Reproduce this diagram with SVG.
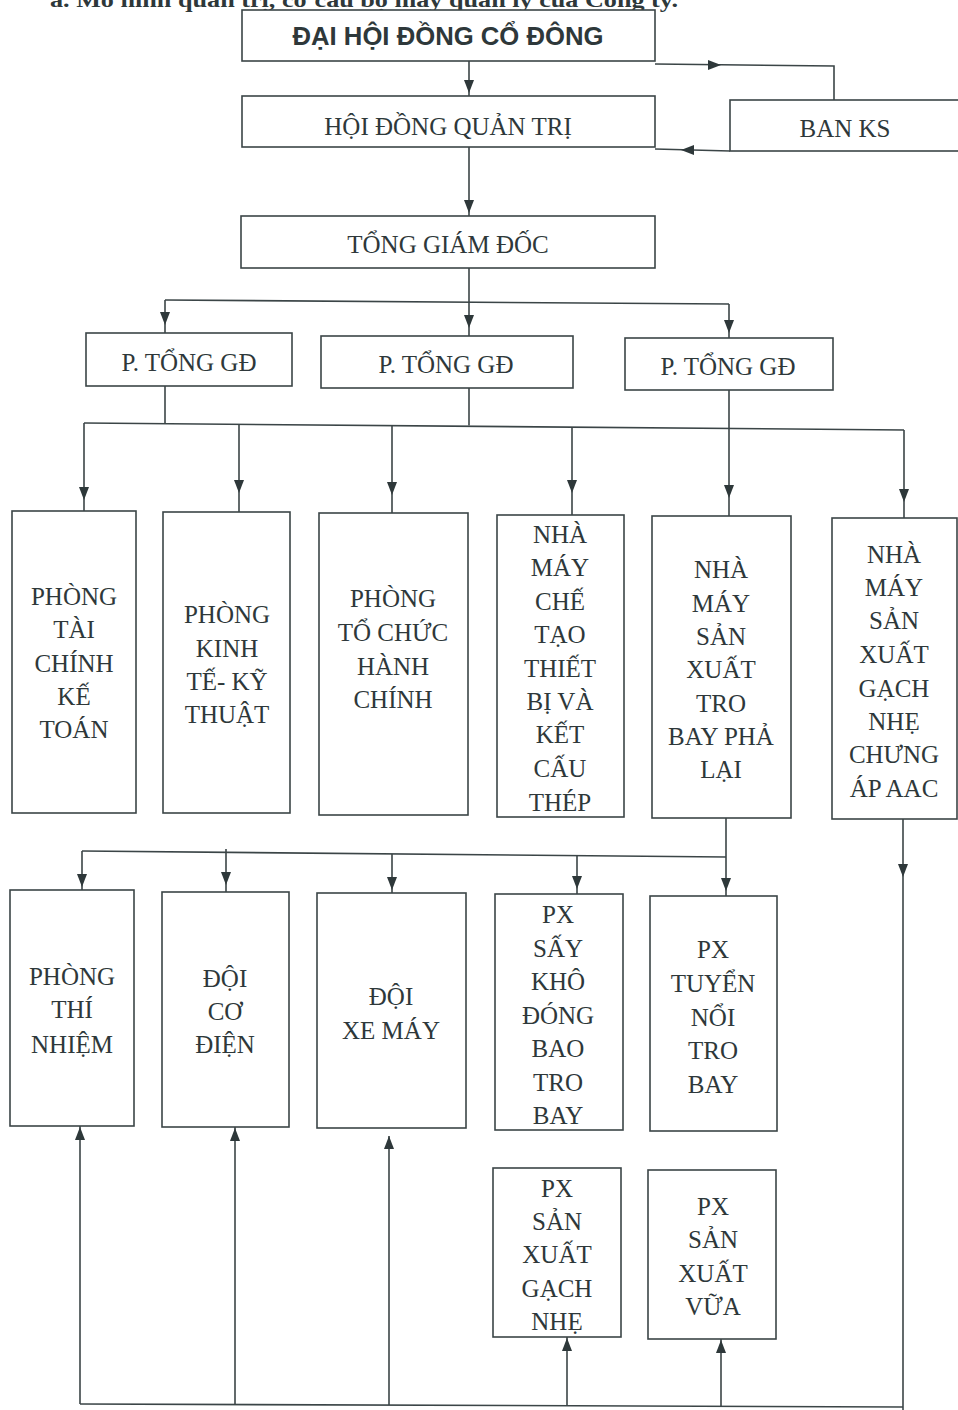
<svg xmlns="http://www.w3.org/2000/svg" xmlns:xlink="http://www.w3.org/1999/xlink" width="958" height="1410" viewBox="0 0 958 1410">
<style>
.bx{fill:#fff;stroke:#3b4547;stroke-width:1.6}
.cn{fill:none;stroke:#3b4547;stroke-width:1.6}
.t{font-family:"Liberation Serif","Times New Roman",serif;font-size:25px;fill:#2e383a;text-anchor:middle}
.hs{font-family:"Liberation Sans",Arial,sans-serif;font-weight:bold;font-size:25px;fill:#2e383a;text-anchor:middle}
.ttl{font-family:"Liberation Serif","Times New Roman",serif;font-weight:bold;font-size:22px;fill:#2e383a}
.ah{fill:#2e383a}
</style>
<defs>
<path id="ad" d="M0,0 L-5,-13 L5,-13 Z"/>
</defs>
<rect width="958" height="1410" fill="#fff"/>
<text class="ttl" x="50" y="7" textLength="628" lengthAdjust="spacingAndGlyphs">a.  Mô hình quản trị, cơ cấu bộ máy quản lý của Công ty.</text>

<g id="connectors">
<path class="cn" d="M469,61 V96"/>
<path class="cn" d="M655,64 L834,66 V100"/>
<path class="cn" d="M730,151 L655,149"/>
<path class="cn" d="M469,147 V216"/>
<path class="cn" d="M469,268 V336"/>
<path class="cn" d="M165,300 L729,304"/>
<path class="cn" d="M165,300 V333"/>
<path class="cn" d="M729,304 V338"/>
<path class="cn" d="M165,386 V423"/>
<path class="cn" d="M469,388 V425.6"/>
<path class="cn" d="M729,390 V516"/>
<path class="cn" d="M84,423 L904,430"/>
<path class="cn" d="M84,423 V511"/>
<path class="cn" d="M239,424.3 V512"/>
<path class="cn" d="M392,425.6 V513"/>
<path class="cn" d="M572,427.2 V515"/>
<path class="cn" d="M904,430 V518"/>
<path class="cn" d="M726,818 V896"/>
<path class="cn" d="M82,851 L726,857"/>
<path class="cn" d="M82,851 V890"/>
<path class="cn" d="M226,849 V892"/>
<path class="cn" d="M392,854 V893"/>
<path class="cn" d="M577,855.5 V894"/>
<path class="cn" d="M903,819 V1410"/>
<path class="cn" d="M80,1404 L903,1407"/>
<path class="cn" d="M80,1404 V1126"/>
<path class="cn" d="M235,1404.5 V1127"/>
<path class="cn" d="M389,1405 V1136"/>
<path class="cn" d="M567,1405.6 V1337"/>
<path class="cn" d="M721,1406 V1339"/>
<g class="ah">
<use xlink:href="#ad" transform="translate(469,93)"/>
<use xlink:href="#ad" transform="translate(721,65) rotate(-90)"/>
<use xlink:href="#ad" transform="translate(681,150) rotate(90)"/>
<use xlink:href="#ad" transform="translate(469,213)"/>
<use xlink:href="#ad" transform="translate(469,328)"/>
<use xlink:href="#ad" transform="translate(165,325)"/>
<use xlink:href="#ad" transform="translate(729,333)"/>
<use xlink:href="#ad" transform="translate(84,500)"/>
<use xlink:href="#ad" transform="translate(239,493)"/>
<use xlink:href="#ad" transform="translate(392,495)"/>
<use xlink:href="#ad" transform="translate(572,493)"/>
<use xlink:href="#ad" transform="translate(729,498)"/>
<use xlink:href="#ad" transform="translate(904,502)"/>
<use xlink:href="#ad" transform="translate(82,887)"/>
<use xlink:href="#ad" transform="translate(226,885)"/>
<use xlink:href="#ad" transform="translate(392,890)"/>
<use xlink:href="#ad" transform="translate(577,889)"/>
<use xlink:href="#ad" transform="translate(726,891)"/>
<use xlink:href="#ad" transform="translate(903,877)"/>
<use xlink:href="#ad" transform="translate(80,1127) rotate(180)"/>
<use xlink:href="#ad" transform="translate(235,1128) rotate(180)"/>
<use xlink:href="#ad" transform="translate(389,1136) rotate(180)"/>
<use xlink:href="#ad" transform="translate(567,1338) rotate(180)"/>
<use xlink:href="#ad" transform="translate(721,1340) rotate(180)"/>
</g>
</g>

<g id="dhdcd"><rect class="bx" x="242" y="10" width="413" height="51"/><text class="hs" x="448" y="45" textLength="311" lengthAdjust="spacingAndGlyphs">ĐẠI HỘI ĐỒNG CỔ ĐÔNG</text></g>
<g id="hdqt"><rect class="bx" x="242" y="96" width="413" height="51"/><text class="t" x="448" y="135">HỘI ĐỒNG QUẢN TRỊ</text></g>
<g id="banks"><rect class="bx" x="730" y="100" width="240" height="51"/><text class="t" x="845" y="137">BAN KS</text></g>
<g id="tgd"><rect class="bx" x="241" y="216" width="414" height="52"/><text class="t" x="448" y="253">TỔNG GIÁM ĐỐC</text></g>

<g id="ptgd1"><rect class="bx" x="86" y="333" width="206" height="53"/><text class="t" x="189" y="371">P. TỔNG GĐ</text></g>
<g id="ptgd2"><rect class="bx" x="321" y="336" width="252" height="52"/><text class="t" x="446" y="373">P. TỔNG GĐ</text></g>
<g id="ptgd3"><rect class="bx" x="625" y="338" width="208" height="52"/><text class="t" x="728" y="375">P. TỔNG GĐ</text></g>

<g id="p-tckt"><rect class="bx" x="12" y="511" width="124" height="302"/>
<text class="t"><tspan x="74" y="605">PHÒNG</tspan><tspan x="74" y="638">TÀI</tspan><tspan x="74" y="672">CHÍNH</tspan><tspan x="74" y="705">KẾ</tspan><tspan x="74" y="738">TOÁN</tspan></text></g>
<g id="p-ktkt"><rect class="bx" x="163" y="512" width="127" height="301"/>
<text class="t"><tspan x="227" y="623">PHÒNG</tspan><tspan x="227" y="657">KINH</tspan><tspan x="227" y="690">TẾ- KỸ</tspan><tspan x="227" y="723">THUẬT</tspan></text></g>
<g id="p-tchc"><rect class="bx" x="319" y="513" width="149" height="302"/>
<text class="t"><tspan x="393" y="607">PHÒNG</tspan><tspan x="393" y="641">TỔ CHỨC</tspan><tspan x="393" y="675">HÀNH</tspan><tspan x="393" y="708">CHÍNH</tspan></text></g>
<g id="nm-ctkc"><rect class="bx" x="497" y="515" width="127" height="302"/>
<text class="t"><tspan x="560" y="543">NHÀ</tspan><tspan x="560" y="576">MÁY</tspan><tspan x="560" y="610">CHẾ</tspan><tspan x="560" y="643">TẠO</tspan><tspan x="560" y="677">THIẾT</tspan><tspan x="560" y="710">BỊ VÀ</tspan><tspan x="560" y="743">KẾT</tspan><tspan x="560" y="777">CẤU</tspan><tspan x="560" y="811">THÉP</tspan></text></g>
<g id="nm-trobay"><rect class="bx" x="652" y="516" width="139" height="302"/>
<text class="t"><tspan x="721" y="578">NHÀ</tspan><tspan x="721" y="612">MÁY</tspan><tspan x="721" y="645">SẢN</tspan><tspan x="721" y="678">XUẤT</tspan><tspan x="721" y="712">TRO</tspan><tspan x="721" y="745">BAY PHẢ</tspan><tspan x="721" y="778">LẠI</tspan></text></g>
<g id="nm-aac"><rect class="bx" x="832" y="518" width="125" height="301"/>
<text class="t"><tspan x="894" y="563">NHÀ</tspan><tspan x="894" y="596">MÁY</tspan><tspan x="894" y="629">SẢN</tspan><tspan x="894" y="663">XUẤT</tspan><tspan x="894" y="697">GẠCH</tspan><tspan x="894" y="730">NHẸ</tspan><tspan x="894" y="763">CHƯNG</tspan><tspan x="894" y="797">ÁP AAC</tspan></text></g>

<g id="p-thinghiem"><rect class="bx" x="10" y="890" width="124" height="236"/>
<text class="t"><tspan x="72" y="985">PHÒNG</tspan><tspan x="72" y="1018">THÍ</tspan><tspan x="72" y="1053">NHIỆM</tspan></text></g>
<g id="doi-codien"><rect class="bx" x="162" y="892" width="127" height="235"/>
<text class="t"><tspan x="225" y="987">ĐỘI</tspan><tspan x="225" y="1020">CƠ</tspan><tspan x="225" y="1053">ĐIỆN</tspan></text></g>
<g id="doi-xemay"><rect class="bx" x="317" y="893" width="149" height="235"/>
<text class="t"><tspan x="391" y="1005">ĐỘI</tspan><tspan x="391" y="1039">XE MÁY</tspan></text></g>
<g id="px-say"><rect class="bx" x="495" y="894" width="128" height="236"/>
<text class="t"><tspan x="558" y="923">PX</tspan><tspan x="558" y="957">SẤY</tspan><tspan x="558" y="990">KHÔ</tspan><tspan x="558" y="1024">ĐÓNG</tspan><tspan x="558" y="1057">BAO</tspan><tspan x="558" y="1091">TRO</tspan><tspan x="558" y="1124">BAY</tspan></text></g>
<g id="px-tuyen"><rect class="bx" x="650" y="896" width="127" height="235"/>
<text class="t"><tspan x="713" y="958">PX</tspan><tspan x="713" y="992">TUYỂN</tspan><tspan x="713" y="1026">NỔI</tspan><tspan x="713" y="1059">TRO</tspan><tspan x="713" y="1093">BAY</tspan></text></g>
<g id="px-gach"><rect class="bx" x="493" y="1168" width="128" height="169"/>
<text class="t"><tspan x="557" y="1197">PX</tspan><tspan x="557" y="1230">SẢN</tspan><tspan x="557" y="1263">XUẤT</tspan><tspan x="557" y="1297">GẠCH</tspan><tspan x="557" y="1330">NHẸ</tspan></text></g>
<g id="px-vua"><rect class="bx" x="648" y="1170" width="128" height="169"/>
<text class="t"><tspan x="713" y="1215">PX</tspan><tspan x="713" y="1248">SẢN</tspan><tspan x="713" y="1282">XUẤT</tspan><tspan x="713" y="1315">VỮA</tspan></text></g>
</svg>
